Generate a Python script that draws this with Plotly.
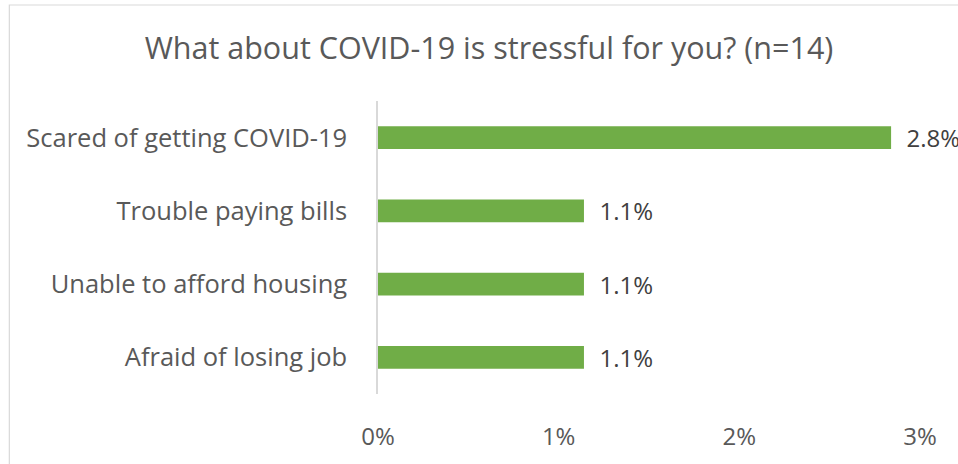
import plotly.graph_objects as go

categories = ["Scared of getting COVID-19", "Trouble paying bills",
              "Unable to afford housing", "Afraid of losing job"]
values = [0.0284, 0.0114, 0.0114, 0.0114]
tick_vals = [0, 0.01, 0.02, 0.03]
tick_text = ["0%", "1%", "2%", "3%"]
title_text = "What about COVID-19 is stressful for you? (n=14)"

FONT = "Open Sans"
GRAY = "#595959"

fig = go.Figure(go.Bar(
    x=values, y=categories, orientation="h",
    marker=dict(color="#70AD47", line=dict(width=0)),
    width=0.31,
    texttemplate="\u00a0\u00a0%{x:.1%}", textposition="outside",
    constraintext="none",
    textfont=dict(family=FONT, size=24, color="#404040"),
    cliponaxis=False, hoverinfo="skip",
))

W, H = 958, 464
l, r, t, b = 377.5, 38, 101, 70
pw, ph = W - l - r, H - t - b

def px_to_paper_x(px):
    return (px - l) / pw

def px_to_paper_y(py):
    return 1 - (py - t) / ph

fig.update_layout(
    width=W, height=H,
    margin=dict(l=l, r=r, t=t, b=b, autoexpand=False),
    paper_bgcolor="white", plot_bgcolor="white",
    showlegend=False,
    title=dict(text=title_text, x=489 / W, xanchor="center",
               y=1 - 48 / H, yanchor="middle",
               font=dict(family=FONT, size=30.5, color=GRAY)),
    xaxis=dict(range=[0, 0.03], tickvals=tick_vals, ticktext=tick_text,
               showgrid=False, zeroline=False, showline=False,
               ticks="", ticklabelstandoff=26,
               tickfont=dict(family=FONT, size=24, color=GRAY)),
    yaxis=dict(categoryorder="array", categoryarray=categories[::-1],
               showgrid=False, zeroline=False, showline=True,
               linecolor="#D9D9D9", linewidth=1.5, ticks="",
               ticklabelstandoff=24,
               tickfont=dict(family=FONT, size=25.5, color=GRAY)),
    shapes=[dict(type="rect", xref="paper", yref="paper",
                 x0=px_to_paper_x(8.5), x1=px_to_paper_x(1000),
                 y0=px_to_paper_y(520), y1=px_to_paper_y(5),
                 line=dict(color="#D9D9D9", width=1.2),
                 fillcolor="rgba(0,0,0,0)", layer="below")],
)

fig.write_html("out.html", config={"displayModeBar": False},
               post_script="document.body.style.margin='0';")
